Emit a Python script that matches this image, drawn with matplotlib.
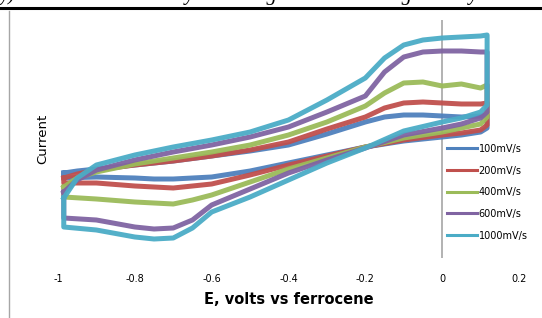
import numpy as np
import matplotlib
matplotlib.use("Agg")
import matplotlib.pyplot as plt
from matplotlib.lines import Line2D

# Potential grid (V vs ferrocene) for forward and reverse sweeps
x_fwd = [-0.985, -0.95, -0.9, -0.8, -0.7, -0.6, -0.5, -0.4, -0.3, -0.2,
         -0.15, -0.1, -0.05, 0, 0.05, 0.1, 0.117]
x_rev = [0.117, 0.1, 0.05, 0, -0.1, -0.2, -0.3, -0.4, -0.5, -0.6,
         -0.65, -0.7, -0.75, -0.8, -0.9, -0.985]

labels = ["100mV/s", "200mV/s", "400mV/s", "600mV/s", "1000mV/s"]
colors = ["#4F81BD", "#C0504D", "#9BBB59", "#8064A2", "#4BACC6"]

# Current (arbitrary units), forward sweep
fwd_100 = [-3.3, -3.1, -2.9, -2.5, -2.1, -1.6, -1.1, -0.5, 0.6, 1.8, 2.3, 2.5, 2.5, 2.4, 2.3, 2.4, 2.5]
fwd_200 = [-3.8, -3.4, -3.0, -2.5, -2.1, -1.6, -1.0, -0.2, 1.1, 2.3, 3.2, 3.7, 3.8, 3.7, 3.6, 3.6, 3.7]
fwd_400 = [-4.7, -3.8, -3.2, -2.4, -1.8, -1.2, -0.5, 0.5, 1.8, 3.4, 4.7, 5.7, 5.8, 5.4, 5.6, 5.2, 5.5]
fwd_600 = [-5.2, -4.0, -3.0, -2.0, -1.2, -0.5, 0.3, 1.3, 2.8, 4.4, 6.8, 8.3, 8.8, 8.9, 8.9, 8.8, 8.8]
fwd_1000 = [-5.8, -3.8, -2.5, -1.5, -0.7, 0.0, 0.8, 2.0, 4.0, 6.2, 8.2, 9.5, 10.0, 10.2, 10.3, 10.4, 10.5]

# Current (arbitrary units), reverse sweep
rev_100 = [1.2, 0.8, 0.5, 0.3, -0.1, -0.7, -1.5, -2.3, -3.1, -3.7, -3.8, -3.9, -3.9, -3.8, -3.7, -3.8]
rev_200 = [1.5, 1.0, 0.7, 0.5, 0.0, -0.7, -1.6, -2.5, -3.5, -4.4, -4.6, -4.8, -4.7, -4.6, -4.3, -4.3]
rev_400 = [2.3, 1.6, 1.2, 0.8, 0.2, -0.7, -1.8, -2.9, -4.2, -5.5, -6.0, -6.4, -6.3, -6.2, -5.9, -5.7]
rev_600 = [2.8, 2.2, 1.6, 1.2, 0.5, -0.8, -2.0, -3.3, -4.9, -6.5, -8.0, -8.8, -8.9, -8.7, -8.0, -7.8]
rev_1000 = [3.5, 2.8, 2.2, 1.8, 0.9, -0.8, -2.3, -4.0, -5.7, -7.2, -8.8, -9.8, -9.9, -9.7, -9.0, -8.7]

fwd = [fwd_100, fwd_200, fwd_400, fwd_600, fwd_1000]
rev = [rev_100, rev_200, rev_400, rev_600, rev_1000]

fig = plt.figure(figsize=(5.42, 3.18), dpi=100)

# document text cut off at the top and the rule beneath it
fig.text(0.0, 1 + 5 / 318, "y). Values calculated by assuming an octahedral geometry.",
         family="Liberation Serif", style="italic", fontsize=14.8,
         ha="left", va="center")
fig.add_artist(Line2D([0, 1], [1 - 8 / 318, 1 - 8 / 318], color="black", lw=2.2))
fig.add_artist(Line2D([9 / 542, 9 / 542], [0, 1 - 11 / 318], color="#a6a6a6", lw=1.0))

ax = fig.add_axes([58 / 542, 60 / 318, 461 / 542, 238 / 318])

for f, r, c, lab in zip(fwd, rev, colors, labels):
    xs = np.concatenate([x_fwd, x_rev, [x_fwd[0]]])
    ys = np.concatenate([f, r, [f[0]]])
    ax.plot(xs, ys, color=c, lw=3.6, solid_joinstyle="round", alpha=0.95)

ax.axvline(0, color="#a6a6a6", lw=1.2, zorder=0)
ax.set_xlim(-1, 0.2)
ax.set_ylim(-11.8, 12)
ax.set_xticks([-1, -0.8, -0.6, -0.4, -0.2, 0, 0.2])
ax.set_xticklabels(["-1", "-0.8", "-0.6", "-0.4", "-0.2", "0", "0.2"])
ax.tick_params(axis="x", length=0, labelsize=7, pad=11.5)
ax.set_yticks([])
for s in ax.spines.values():
    s.set_visible(False)

ax.set_xlabel("E, volts vs ferrocene", fontsize=10.5, fontweight="bold", labelpad=6)
ax.set_ylabel("Current", fontsize=9.5, labelpad=6)

handles = [Line2D([], [], color=c, lw=2.2) for c in colors]
fig.legend(handles, labels, loc="upper left", bbox_to_anchor=(443 / 542, 1 - 140 / 318),
           frameon=False, fontsize=7, handlelength=3.1, handletextpad=0.15,
           labelspacing=1.2, borderaxespad=0)

fig.savefig("out.png", dpi=100)
